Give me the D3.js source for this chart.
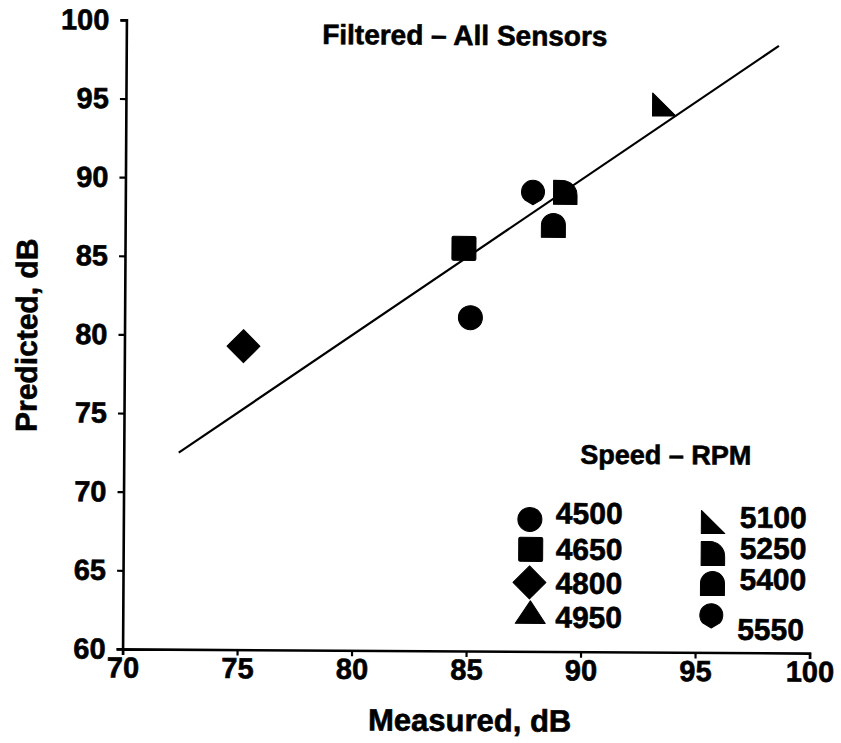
<!DOCTYPE html>
<html>
<head>
<meta charset="utf-8">
<script src="https://cdn.jsdelivr.net/npm/d3@7"></script>
<style>
  body { margin: 0; background: #fff; }
  svg { display: block; }
  text { font-family: "Liberation Sans", Arial, Helvetica, sans-serif; font-weight: bold; fill: #000; stroke: #000; stroke-width: 0.6px; }
</style>
</head>
<body>
<svg id="chart" width="841" height="743"></svg>
<script>
// Speed runs (RPM) and their measured / predicted levels in dB
const speeds    = ["4500", "4650", "4800", "4950", "5100", "5250", "5400", "5550"];
const measured  = [85.1, 84.8, 75.2, null, 93.5, 89.2, 88.7, 87.8];
const predicted = [81.2, 85.6, 79.3, null, 94.8, 89.2, 87.1, 89.2];

// Fitted line end points
const fitMeasured  = [72.4, 98.5];
const fitPredicted = [72.5, 98.6];

// Axis ticks
const xTicks = [70, 75, 80, 85, 90, 95, 100];
const yTicks = [60, 65, 70, 75, 80, 85, 90, 95, 100];

const svg = d3.select("#chart");
const root = svg.append("g").attr("transform", "rotate(0.35, 467, 336)");

const x = d3.scaleLinear().domain([70, 100]).range([124.5, 811.5]);
const y = d3.scaleLinear().domain([60, 100]).range([651, 22]);

// Marker shapes, one per speed, centred on the origin
const shapes = {
  "4500": "M0,-12A12,12 0 1 1 0,12A12,12 0 1 1 0,-12Z",
  "4650": "M-10.5,-12H10.5Q12,-12 12,-10.5V10.5Q12,12 10.5,12H-10.5Q-12,12 -12,10.5V-10.5Q-12,-12 -10.5,-12Z",
  "4800": "M0,-16.5L16.5,0L0,16.5L-16.5,0Z",
  "4950": "M0,-11.5L15,11L-15,11Z",
  "5100": "M-11.5,-12L12,11L-11.5,11Z",
  "5250": "M-11.5,12V-12H-3A15,15 0 0 1 12,3V12Z",
  "5400": "M-12,12V0A12,12 0 0 1 12,0V12Z",
  "5550": "M-8.3,7.6A11.5,11.5 0 1 1 8.3,7.6L0,12.5Z"
};

// Axes
const xAxis = d3.axisBottom(x).tickValues(xTicks).tickSize(6).tickPadding(2);
const yAxis = d3.axisLeft(y).tickValues(yTicks).tickSize(6).tickPadding(11);

const gx = root.append("g").attr("transform", `translate(0,${y(60)})`).call(xAxis);
const gy = root.append("g").attr("transform", `translate(${x(70)},0)`).call(yAxis);

[gx, gy].forEach(g => {
  g.selectAll("path.domain").attr("stroke", "#000").attr("stroke-width", 2.6);
  g.selectAll(".tick line").attr("stroke", "#000").attr("stroke-width", 2.2);
  g.selectAll(".tick text")
    .attr("fill", "#000")
    .attr("stroke", "#000")
    .attr("stroke-width", 0.6)
    .style("font-family", "'Liberation Sans', Arial, sans-serif")
    .style("font-weight", "bold")
    .style("font-size", "29px");
});

// Fitted line
root.append("line")
  .attr("x1", x(fitMeasured[0])).attr("y1", y(fitPredicted[0]))
  .attr("x2", x(fitMeasured[1])).attr("y2", y(fitPredicted[1]))
  .attr("stroke", "#000").attr("stroke-width", 2.2);

// Data markers
const points = speeds.map((s, i) => ({ speed: s, m: measured[i], p: predicted[i] }))
  .filter(d => d.m != null && d.p != null);

root.append("g").selectAll("path")
  .data(points)
  .join("path")
  .attr("d", d => shapes[d.speed])
  .attr("transform", d => `translate(${x(d.m)},${y(d.p)})`)
  .attr("fill", "#000")
  .attr("stroke", "#000")
  .attr("stroke-width", 1)
  .attr("stroke-linejoin", "round");

// Titles
root.append("text")
  .attr("x", 463).attr("y", 45)
  .attr("text-anchor", "middle")
  .style("font-size", "28px")
  .text("Filtered – All Sensors");

root.append("text")
  .attr("x", 472).attr("y", 731)
  .attr("text-anchor", "middle")
  .style("font-size", "31px")
  .text("Measured, dB");

root.append("text")
  .attr("transform", "translate(37,338) rotate(-90)")
  .attr("text-anchor", "middle")
  .style("font-size", "30px")
  .text("Predicted, dB");

// Legend
root.append("text")
  .attr("x", 581).attr("y", 463)
  .style("font-size", "27px")
  .text("Speed – RPM");

const legendPos = {
  "4500": { sx: 531, sy: 519, tx: 557, ty: 523 },
  "4650": { sx: 532, sy: 549, tx: 557, ty: 559 },
  "4800": { sx: 531, sy: 582, tx: 557, ty: 593 },
  "4950": { sx: 532, sy: 612, tx: 557, ty: 627 },
  "5100": { sx: 714, sy: 521, tx: 741, ty: 526 },
  "5250": { sx: 714, sy: 552, tx: 741, ty: 557 },
  "5400": { sx: 714, sy: 582, tx: 741, ty: 588 },
  "5550": { sx: 713, sy: 614, tx: 739, ty: 638 }
};

const legend = root.append("g").selectAll("g")
  .data(speeds)
  .join("g");

legend.append("path")
  .attr("d", s => shapes[s])
  .attr("transform", s => `translate(${legendPos[s].sx},${legendPos[s].sy})`)
  .attr("fill", "#000")
  .attr("stroke", "#000")
  .attr("stroke-width", 1)
  .attr("stroke-linejoin", "round");

legend.append("text")
  .attr("x", s => legendPos[s].tx)
  .attr("y", s => legendPos[s].ty)
  .style("font-size", "30px")
  .text(s => s);
</script>
</body>
</html>
